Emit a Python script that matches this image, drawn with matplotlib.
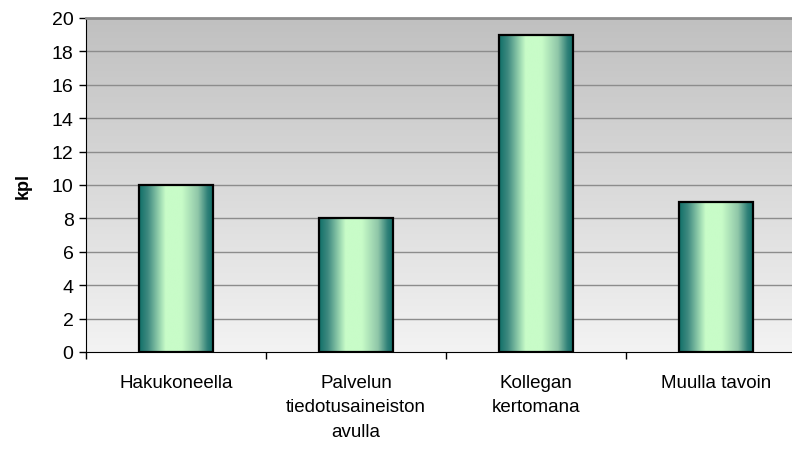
import matplotlib
matplotlib.use("Agg")
import matplotlib.pyplot as plt
import numpy as np
from matplotlib.colors import LinearSegmentedColormap

# Data
categories = ["Hakukoneella", "Palvelun\ntiedotusaineiston\navulla", "Kollegan\nkertomana", "Muulla tavoin"]
values = [10, 8, 19, 9]
yticks = list(range(0, 21, 2))

plt.rcParams["font.family"] = ["Liberation Sans", "DejaVu Sans"]

fig = plt.figure(figsize=(7.92, 4.52), dpi=100)
# plot area continues past the right edge like in the original
ax = fig.add_axes([86 / 792, 99 / 452, 720 / 792, 334 / 452])

n = len(categories)

# background gradient (gray top -> near white bottom)
bg = LinearSegmentedColormap.from_list("bg", ["#f3f3f3", "#c0c0c0"])
grad = np.linspace(0, 1, 256).reshape(-1, 1)
ax.imshow(grad, cmap=bg, aspect="auto", extent=[0, n, 0, 20], origin="lower", zorder=0)

# grid lines
for y in yticks[1:]:
    ax.axhline(y, color="#8c8c8c", lw=1, zorder=1)

# bars with horizontal gradient
barcm = LinearSegmentedColormap.from_list(
    "bar", [(0.0, "#107068"), (0.12, "#3f8a80"), (0.36, "#c8fcc8"),
            (0.58, "#c8fcc8"), (0.8, "#8fc6a8"), (0.93, "#2f8078"), (1.0, "#107068")])
hgrad = np.linspace(0, 1, 256).reshape(1, -1)
width = 0.41
bars = ax.bar(np.arange(n) + 0.5, values, width=width, color="none",
              edgecolor="black", linewidth=1.6, zorder=3)
for b in bars:
    x0, h = b.get_x(), b.get_height()
    im = ax.imshow(hgrad, cmap=barcm, aspect="auto",
                   extent=[x0, x0 + width, 0, h], zorder=2)
    im.set_clip_path(b)
ax.set_xlim(0, n)
ax.set_ylim(0, 20)

ax.set_yticks(yticks)
ax.set_xticks(np.arange(n) + 0.5)
ax.set_xticklabels(categories, fontsize=13.5, linespacing=1.55, va="top")
ax.set_xticks(np.arange(n + 1), minor=True)
ax.tick_params(axis="x", which="major", length=0, pad=16)
ax.tick_params(axis="x", which="minor", length=5, width=1, direction="out")
ax.tick_params(axis="y", length=5, width=1, direction="out", labelsize=14, pad=4)

ax.set_ylabel("kpl", fontsize=13, fontweight="bold", labelpad=14)

ax.spines["left"].set_color("black")
ax.spines["bottom"].set_color("black")
ax.spines["top"].set_color("#8c8c8c")
ax.spines["top"].set_linewidth(2)
ax.spines["right"].set_visible(False)

fig.savefig("out.png", dpi=100)
